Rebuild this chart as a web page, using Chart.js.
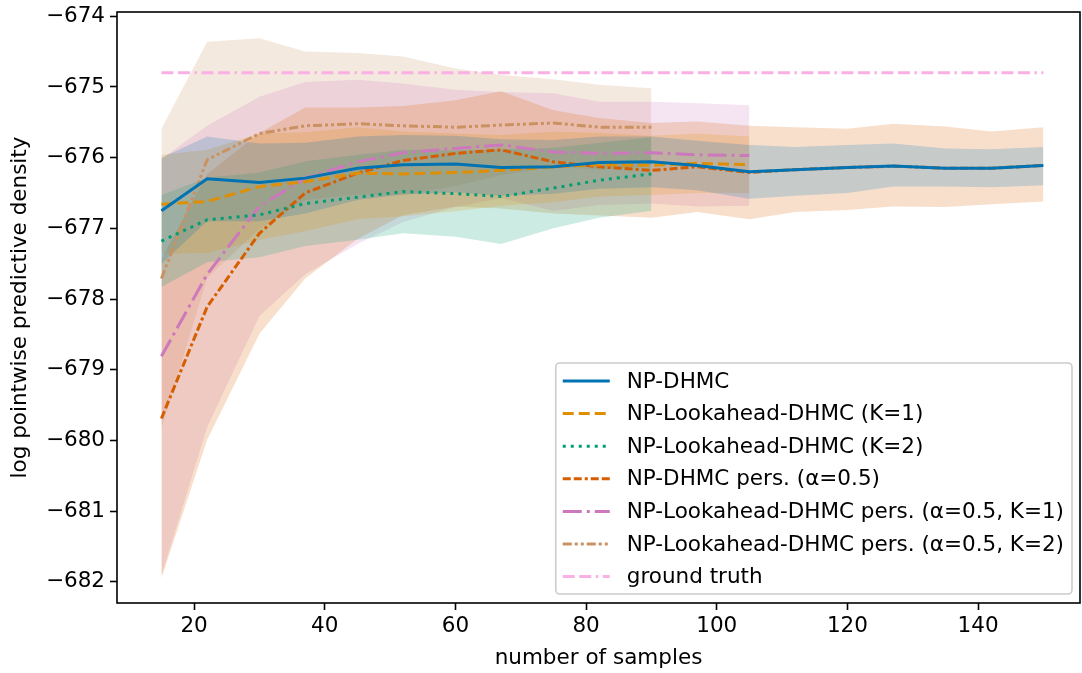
<!DOCTYPE html>
<html>
<head>
<meta charset="utf-8">
<script src="https://cdn.jsdelivr.net/npm/chart.js@4.4.1/dist/chart.umd.min.js"></script>
<style>
  html, body { margin: 0; padding: 0; background: #fff; }
  #wrap { width: 1082px; height: 673px; }
</style>
</head>
<body>
<div id="wrap"><canvas id="lppdChart" width="1082" height="673"></canvas></div>
<script>
// sample counts on the x axis
const samples = [15, 22, 30, 37, 45, 52, 60, 67, 75, 82, 90, 97, 105, 112, 120, 127, 135, 142, 150];
const xTicks = [20, 40, 60, 80, 100, 120, 140];
const yTicks = [-682, -681, -680, -679, -678, -677, -676, -675, -674];

// NP-DHMC
const npDhmc = [-676.75, -676.30, -676.35, -676.29, -676.15, -676.10, -676.09, -676.14, -676.13, -676.07, -676.06, -676.11, -676.20, -676.17, -676.14, -676.12, -676.15, -676.15, -676.11];
const npDhmcHi = [-676.00, -675.70, -675.80, -675.79, -675.70, -675.68, -675.69, -675.74, -675.75, -675.70, -675.70, -675.76, -675.82, -675.85, -675.82, -675.80, -675.87, -675.88, -675.85];
const npDhmcLo = [-677.50, -676.90, -676.90, -676.79, -676.60, -676.52, -676.49, -676.54, -676.51, -676.44, -676.42, -676.46, -676.58, -676.54, -676.50, -676.41, -676.41, -676.42, -676.39];

// NP-Lookahead-DHMC (K=1)
const look1 = [-676.66, -676.62, -676.41, -676.34, -676.22, -676.23, -676.21, -676.18, -676.13, -676.10, -676.11, -676.08, -676.10];
const look1Hi = [-675.96, -675.89, -675.66, -675.64, -675.57, -675.63, -675.66, -675.68, -675.63, -675.65, -675.69, -675.66, -675.70];
const look1Lo = [-677.36, -677.35, -677.16, -677.04, -676.87, -676.83, -676.76, -676.68, -676.63, -676.55, -676.53, -676.50, -676.50];

// NP-Lookahead-DHMC (K=2)
const look2 = [-677.18, -676.88, -676.81, -676.65, -676.56, -676.48, -676.51, -676.55, -676.43, -676.32, -676.23];
const look2Hi = [-676.53, -676.28, -676.21, -676.05, -675.96, -675.89, -675.90, -675.88, -675.86, -675.79, -675.71];
const look2Lo = [-677.83, -677.48, -677.41, -677.25, -677.16, -677.07, -677.12, -677.22, -677.00, -676.85, -676.75];

// NP-DHMC pers. (alpha=0.5)
const pers = [-679.69, -678.11, -677.07, -676.50, -676.22, -676.04, -675.94, -675.89, -676.06, -676.13, -676.18, -676.13, -676.21, -676.17, -676.14, -676.12, -676.15, -676.15, -676.11];
const persHi = [-677.43, -676.23, -675.65, -675.29, -675.29, -675.27, -675.19, -675.06, -675.33, -675.44, -675.51, -675.49, -675.55, -675.57, -675.59, -675.52, -675.56, -675.63, -675.57];
const persLo = [-681.95, -679.99, -678.49, -677.71, -677.15, -676.81, -676.69, -676.72, -676.79, -676.82, -676.85, -676.77, -676.87, -676.77, -676.74, -676.69, -676.70, -676.66, -676.62];

// NP-Lookahead-DHMC pers. (alpha=0.5, K=1)
const persLook1 = [-678.81, -677.65, -676.69, -676.29, -676.06, -675.93, -675.87, -675.82, -675.92, -675.94, -675.93, -675.96, -675.97];
const persLook1Hi = [-676.02, -675.55, -675.14, -674.93, -674.90, -674.95, -675.04, -675.07, -675.09, -675.21, -675.21, -675.23, -675.26];
const persLook1Lo = [-681.91, -679.81, -678.24, -677.65, -677.22, -676.91, -676.70, -676.57, -676.75, -676.67, -676.65, -676.69, -676.68];

// NP-Lookahead-DHMC pers. (alpha=0.5, K=2)
const persLook2 = [-677.71, -676.03, -675.66, -675.55, -675.52, -675.55, -675.57, -675.54, -675.51, -675.57, -675.57];
const persLook2Hi = [-675.59, -674.36, -674.31, -674.50, -674.52, -674.57, -674.74, -674.83, -674.89, -674.97, -675.02];
const persLook2Lo = [-679.83, -677.70, -677.01, -676.60, -676.52, -676.53, -676.40, -676.25, -676.13, -676.17, -676.12];

const groundTruth = -674.80;

function pts(ys) {
  return ys.map((y, i) => ({ x: samples[i], y: y }));
}

function hexA(hex, a) {
  const n = parseInt(hex.slice(1), 16);
  return `rgba(${(n >> 16) & 255}, ${(n >> 8) & 255}, ${n & 255}, ${a})`;
}

const series = [
  { label: 'NP-DHMC', mean: npDhmc, hi: npDhmcHi, lo: npDhmcLo, color: '#0173b2', dash: [] },
  { label: 'NP-Lookahead-DHMC (K=1)', mean: look1, hi: look1Hi, lo: look1Lo, color: '#de8f05', dash: [11, 5] },
  { label: 'NP-Lookahead-DHMC (K=2)', mean: look2, hi: look2Hi, lo: look2Lo, color: '#029e73', dash: [3, 5] },
  { label: 'NP-DHMC pers. (α=0.5)', mean: pers, hi: persHi, lo: persLo, color: '#d55e00', dash: [8, 3, 8, 3, 3, 3] },
  { label: 'NP-Lookahead-DHMC pers. (α=0.5, K=1)', mean: persLook1, hi: persLook1Hi, lo: persLook1Lo, color: '#cc78bc', dash: [19, 5, 3, 5] },
  { label: 'NP-Lookahead-DHMC pers. (α=0.5, K=2)', mean: persLook2, hi: persLook2Hi, lo: persLook2Lo, color: '#ca9161', dash: [9, 3, 3, 3, 3, 3] }
];

const datasets = [];
series.forEach(s => {
  datasets.push({
    data: pts(s.hi), borderWidth: 0, pointRadius: 0, fill: false, order: 1
  });
  datasets.push({
    data: pts(s.lo), borderWidth: 0, pointRadius: 0, fill: '-1',
    backgroundColor: hexA(s.color, 0.2), order: 1
  });
});
series.forEach(s => {
  datasets.push({
    label: s.label, data: pts(s.mean), borderColor: s.color, borderWidth: 3,
    borderDash: s.dash, pointRadius: 0, fill: false, order: 0
  });
});
datasets.push({
  label: 'ground truth',
  data: [{ x: samples[0], y: groundTruth }, { x: samples[samples.length - 1], y: groundTruth }],
  borderColor: '#fbafe4', borderWidth: 3, borderDash: [12, 4.5, 12, 4.5, 2.5, 4.5],
  pointRadius: 0, fill: false, order: 0
});

// black box round the plot plus a matplotlib style legend
const frameAndLegend = {
  id: 'frameAndLegend',
  afterDraw(chart) {
    const ctx = chart.ctx;
    const a = chart.chartArea;
    ctx.save();
    ctx.strokeStyle = '#000';
    ctx.lineWidth = 1.6;
    ctx.strokeRect(a.left, a.top, a.right - a.left, a.bottom - a.top);

    const items = chart.data.datasets.filter(d => d.label);
    ctx.font = '21.5px "DejaVu Sans"';
    let tw = 0;
    items.forEach(d => { tw = Math.max(tw, ctx.measureText(d.label).width); });
    const rowH = 32.6;
    const w = 71 + tw + 8;
    const h = 18 + rowH * (items.length - 1) + 17.4;
    const right = a.right - 8;
    const bottom = a.bottom - 9;
    const left = right - w;
    const top = bottom - h;

    ctx.fillStyle = 'rgba(255,255,255,0.8)';
    ctx.strokeStyle = '#cccccc';
    ctx.lineWidth = 1.6;
    ctx.beginPath();
    ctx.roundRect(left, top, w, h, 4);
    ctx.fill();
    ctx.stroke();

    items.forEach((d, i) => {
      const y = top + 18 + i * rowH;
      ctx.strokeStyle = d.borderColor;
      ctx.lineWidth = 3;
      ctx.setLineDash(d.borderDash || []);
      ctx.beginPath();
      ctx.moveTo(left + 7, y);
      ctx.lineTo(left + 54, y);
      ctx.stroke();
      ctx.setLineDash([]);
      ctx.fillStyle = '#000';
      ctx.textBaseline = 'middle';
      ctx.textAlign = 'left';
      ctx.fillText(d.label, left + 71, y + 1);
    });
    ctx.restore();
  }
};

Chart.defaults.font.family = '"DejaVu Sans"';
Chart.defaults.font.size = 21.5;
Chart.defaults.color = '#000';

new Chart(document.getElementById('lppdChart'), {
  type: 'line',
  data: { datasets: datasets },
  options: {
    responsive: false,
    animation: false,
    layout: { padding: { top: 12, right: 2, left: 0, bottom: 0 } },
    plugins: { legend: { display: false }, tooltip: { enabled: false } },
    elements: { line: { tension: 0 } },
    scales: {
      x: {
        type: 'linear', min: 8.2, max: 155.6,
        afterBuildTicks: sc => { sc.ticks = xTicks.map(v => ({ value: v })); },
        afterFit: sc => { sc.height = 70; sc.paddingLeft = 0; sc.paddingRight = 0; },
        grid: { display: true, drawOnChartArea: false, drawTicks: true, tickLength: 7, tickWidth: 1.6, tickColor: '#000' },
        border: { display: false },
        ticks: { autoSkip: false, maxRotation: 0, padding: 4, color: '#000' },
        title: { display: true, text: 'number of samples', padding: { top: 0, bottom: 2 } }
      },
      y: {
        type: 'linear', min: -682.30, max: -673.94,
        afterBuildTicks: sc => { sc.ticks = yTicks.map(v => ({ value: v })); },
        afterFit: sc => { sc.width = 117; sc.paddingTop = 0; sc.paddingBottom = 0; },
        grid: { display: true, drawOnChartArea: false, drawTicks: true, tickLength: 7, tickWidth: 1.6, tickColor: '#000' },
        border: { display: false },
        ticks: {
          autoSkip: false, padding: 5, color: '#000',
          callback: v => '\u2212' + Math.abs(v)
        },
        title: { display: true, text: 'log pointwise predictive density', padding: { top: 8, bottom: 0 } }
      }
    }
  },
  plugins: [frameAndLegend]
});
</script>
</body>
</html>
